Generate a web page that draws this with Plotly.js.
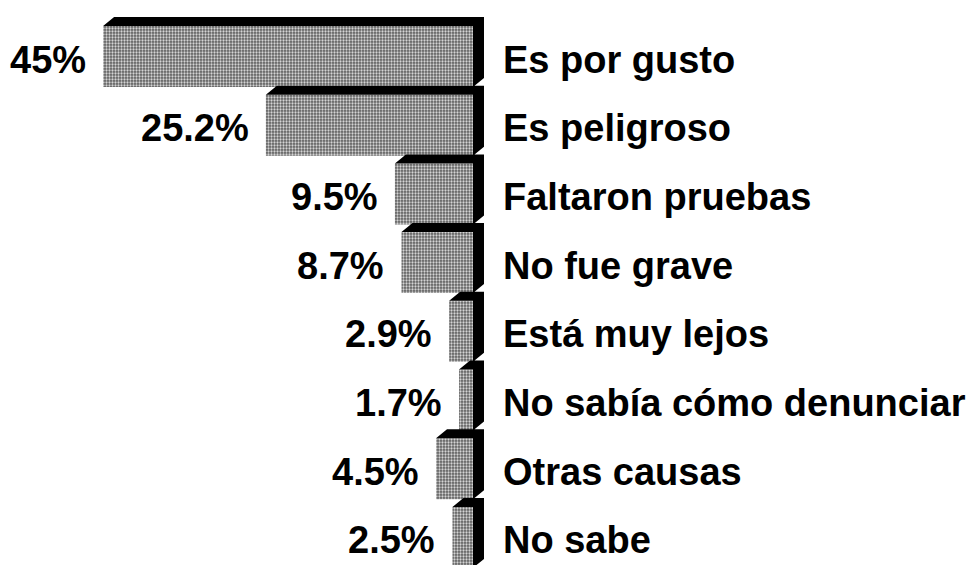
<!DOCTYPE html>
<html>
<head>
<meta charset="utf-8">
<script src="https://cdn.plot.ly/plotly-3.0.1.min.js"></script>
<style>
  html, body { margin: 0; padding: 0; background: #ffffff; }
  #chart { width: 969px; height: 565px; }
</style>
</head>
<body>
<div id="chart"></div>
<script>
// ---- data ----
const categories = [
  "Es por gusto",
  "Es peligroso",
  "Faltaron pruebas",
  "No fue grave",
  "Está muy lejos",
  "No sabía cómo denunciar",
  "Otras causas",
  "No sabe"
];
const percentages = [45, 25.2, 9.5, 8.7, 2.9, 1.7, 4.5, 2.5];
const percentLabels = ["45%", "25.2%", "9.5%", "8.7%", "2.9%", "1.7%", "4.5%", "2.5%"];

// ---- geometry / style ----
const W = 969, H = 565;
const plotRight = 484;          // pixel where the plot area ends (right edge of 3D side)
const zeroPx = 473;             // pixel of value 0 (right edge of bar face)
const pxPerUnit = 8.22;         // pixels per percentage point
const rowTop = 56.5;            // pixel centre of first row
const rowStep = 68.7;           // pixels between rows
const barWidth = 0.888;         // in row units
const depthXpx = 11, depthYpx = 9;

const xMax = zeroPx / pxPerUnit;                // value at left edge (pixel 0)
const xMin = -(plotRight - zeroPx) / pxPerUnit; // value at right edge
const yTop = -rowTop / rowStep;
const yBottom = (H - rowTop) / rowStep;
const dX = depthXpx / pxPerUnit;
const dY = depthYpx / rowStep;

const idx = categories.map((_, i) => i);

// 3D extrusion polygons (top band + right side), computed from the data
const ex = [], ey = [];
percentages.forEach((v, i) => {
  const T = i - barWidth / 2, B = i + barWidth / 2;
  const L = v, R = 0;
  ex.push(L, L - dX, R - dX, R - dX, R, R, L, null);
  ey.push(T, T - dY, T - dY, B - dY, B, T, T, null);
});

const faces = {
  type: "bar",
  orientation: "h",
  x: percentages,
  y: idx,
  width: barWidth,
  marker: {
    color: "#7a7a7a",
    line: { width: 0 },
    pattern: { shape: ".", fgcolor: "#d4d4d4", bgcolor: "#5e5e5e", size: 3, solidity: 0.45 }
  },
  hoverinfo: "skip",
  showlegend: false
};

const depth = {
  type: "scatter",
  mode: "lines",
  x: ex,
  y: ey,
  fill: "toself",
  fillcolor: "#000000",
  line: { width: 0, color: "#000000" },
  hoverinfo: "skip",
  showlegend: false
};

const font = { family: "Liberation Sans, Arial, sans-serif", size: 38, color: "#000000", weight: "bold" };

const annotations = [];
percentages.forEach((v, i) => {
  annotations.push({
    x: v, y: i, xref: "x", yref: "y",
    text: "<b>" + percentLabels[i] + "</b>",
    showarrow: false, xanchor: "right", yanchor: "middle",
    xshift: -15, yshift: -3, font: font
  });
  annotations.push({
    x: xMin, y: i, xref: "x", yref: "y",
    text: "<b>" + categories[i] + "</b>",
    showarrow: false, xanchor: "left", yanchor: "middle",
    xshift: 17, yshift: -3, font: font
  });
});

const layout = {
  width: W, height: H,
  margin: { l: 0, r: W - plotRight, t: 0, b: 0, pad: 0 },
  paper_bgcolor: "#ffffff",
  plot_bgcolor: "#ffffff",
  barmode: "overlay",
  xaxis: { range: [xMax, xMin], visible: false, fixedrange: true },
  yaxis: { range: [yBottom, yTop], visible: false, fixedrange: true },
  annotations: annotations,
  showlegend: false
};

Plotly.newPlot("chart", [faces, depth], layout, { staticPlot: true, displayModeBar: false });
</script>
</body>
</html>
